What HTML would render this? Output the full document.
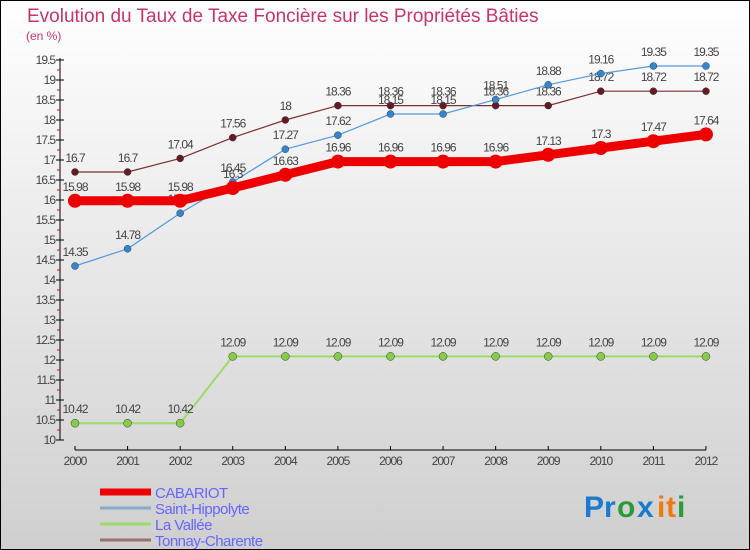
<!DOCTYPE html>
<html><head><meta charset="utf-8"><style>
html,body{margin:0;padding:0}
body{width:750px;height:550px;overflow:hidden;font-family:"Liberation Sans",sans-serif}
svg{display:block}
</style></head><body>
<svg id="chart" width="750" height="550" xmlns="http://www.w3.org/2000/svg">
<defs><linearGradient id="bg" x1="0" y1="0" x2="0" y2="1"><stop offset="0" stop-color="#ffffff"/><stop offset="1" stop-color="#cfcfcf"/></linearGradient></defs>
<rect x="0.5" y="0.5" width="749" height="549" fill="url(#bg)" stroke="#000"/>
<text x="27" y="22" font-size="19" fill="#c8336a">Evolution du Taux de Taxe Foncière sur les Propriétés Bâties</text>
<text x="26" y="40" font-size="12" fill="#c8336a">(en %)</text>
<g id="axes"></g><g id="series"></g><g id="legend"></g>
<g font-size="30" font-weight="bold">
<text x="584" y="517" fill="#1a7ad0">P</text><text x="604" y="517" fill="#1a7ad0">r</text><text x="617" y="517" fill="#2a9a3a">o</text><text x="637" y="517" fill="#1a7ad0">x</text><text x="657" y="517" fill="#f07a10">i</text><text x="666" y="517" fill="#f07a10">t</text><text x="677" y="517" fill="#2a9a3a">i</text>
</g>
</svg>
<script>
const years=[2000,2001,2002,2003,2004,2005,2006,2007,2008,2009,2010,2011,2012];
const cabariot=[15.98,15.98,15.98,16.3,16.63,16.96,16.96,16.96,16.96,17.13,17.3,17.47,17.64];
const saintHippolyte=[14.35,14.78,15.67,16.45,17.27,17.62,18.15,18.15,18.51,18.88,19.16,19.35,19.35];
const laVallee=[10.42,10.42,10.42,12.09,12.09,12.09,12.09,12.09,12.09,12.09,12.09,12.09,12.09];
const tonnay=[16.7,16.7,17.04,17.56,18,18.36,18.36,18.36,18.36,18.36,18.72,18.72,18.72];
const yTicks=[10,10.5,11,11.5,12,12.5,13,13.5,14,14.5,15,15.5,16,16.5,17,17.5,18,18.5,19,19.5];
const NS="http://www.w3.org/2000/svg";
const x=i=>75+i*52.58;
const y=v=>440-(v-10)*40;
function mk(p,t,a){const e=document.createElementNS(NS,t);for(const k in a)e.setAttribute(k,a[k]);p.appendChild(e);return e;}
const ax=document.getElementById('axes');
let l=mk(ax,'line',{x1:60,y1:58,x2:60,y2:440,stroke:'#000'});


for(let v=10;v<=19.5;v+=0.25){
 const major=Math.abs(v*2-Math.round(v*2))<1e-6;
 mk(ax,'line',{x1:major?56:57,y1:y(v),x2:major?64:60,y2:y(v),stroke:major?'#000':'#e00'});
}
yTicks.forEach(v=>{const t=mk(ax,'text',{x:55,y:y(v)+4,'text-anchor':'end','font-size':12,fill:'#444','letter-spacing':'-1'});t.textContent=String(v);

});
l=mk(ax,'line',{x1:75,y1:450,x2:706,y2:450,stroke:'#000'});


years.forEach((yr,i)=>{mk(ax,'line',{x1:x(i),y1:446,x2:x(i),y2:450,stroke:'#000'});
 const t=mk(ax,'text',{x:x(i),y:465,'text-anchor':'middle','font-size':12,fill:'#444','letter-spacing':'-1'});t.textContent=yr;
 
 });
const sg=document.getElementById('series');
function series(name,data,color,w,r,fill){
 const g=mk(sg,'g',{});
 
 
 mk(g,'polyline',{points:data.map((v,i)=>x(i)+','+y(v)).join(' '),fill:'none',stroke:color,'stroke-width':w});
 data.forEach((v,i)=>{const c=mk(g,'circle',{cx:x(i),cy:y(v),r:r,fill:fill,stroke:w>3?'none':'#335','stroke-width':0.5});
  
  
  const t=mk(g,'text',{x:x(i),y:y(v)-10,'text-anchor':'middle','font-size':12,fill:'#444','letter-spacing':'-1'});t.textContent=String(v);
  
  });
}
series('la-vallee',laVallee,'#99dd66',2,4,'#88cc44');
series('tonnay-charente',tonnay,'#7a3030',1.2,3.5,'#6a1a1a');
series('saint-hippolyte',saintHippolyte,'#5599dd',1.2,3.5,'#3388cc');
series('cabariot',cabariot,'#ee0000',9,7,'#ee0000');
const lg=document.getElementById('legend');
const names=['CABARIOT','Saint-Hippolyte','La Vallée','Tonnay-Charente'];
const cols=['#ee0000','#88aacc','#99dd66','#997070'];
names.forEach((n,i)=>{const yy=492+i*16;
 const ln=mk(lg,'line',{x1:100,y1:yy,x2:151,y2:yy,stroke:cols[i],'stroke-width':i==0?7:3});
 
 
 const t=mk(lg,'text',{x:155,y:yy+6,'font-size':15,fill:'#6666ff','letter-spacing':'-0.5'});t.textContent=n;
 
 });
</script>
</body></html>
